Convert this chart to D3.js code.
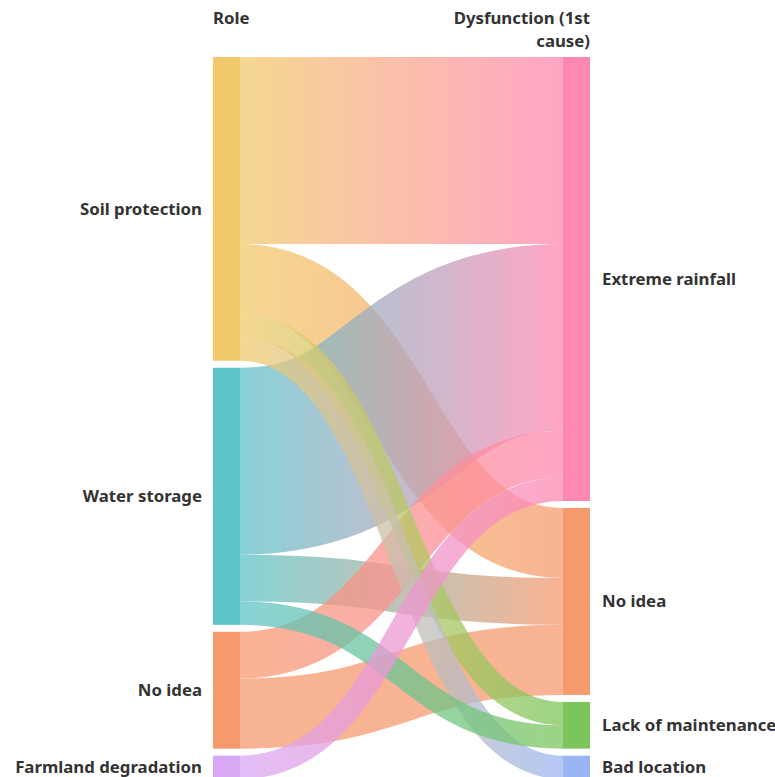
<!DOCTYPE html>
<html>
<head>
<meta charset="utf-8">
<script src="https://cdn.jsdelivr.net/npm/d3@7"></script>
<style>
  html, body { margin: 0; padding: 0; background: #fff; overflow: hidden; }
  svg { display: block; }
  text { font-family: "Noto Sans", "Open Sans", sans-serif; font-weight: 700; fill: #333; }
</style>
</head>
<body>
<div id="root"></div>
<script>
const columnTitles = [["Role"], ["Dysfunction (1st", "cause)"]];

const sourceNodes = ["Soil protection", "Water storage", "No idea", "Farmland degradation"];
const targetNodes = ["Extreme rainfall", "No idea", "Lack of maintenance", "Bad location"];

const linkSource = ["Soil protection", "Soil protection", "Soil protection", "Soil protection",
  "Water storage", "Water storage", "Water storage", "No idea", "No idea", "Farmland degradation"];
const linkTarget = ["Extreme rainfall", "No idea", "Lack of maintenance", "Bad location",
  "Extreme rainfall", "No idea", "Lack of maintenance", "Extreme rainfall", "No idea", "Extreme rainfall"];
const linkValue = [8, 3, 1, 1, 8, 2, 1, 2, 3, 1];

const nodeColors = {
  "Soil protection": "#f2ca6c",
  "Water storage": "#5ec3ca",
  "No idea": "#f69a6e",
  "Farmland degradation": "#d8a8f4",
  "Extreme rainfall": "#ff88b1",
  "Lack of maintenance": "#7cc55b",
  "Bad location": "#9bb5f2",
};

drawSankey();

function drawSankey() {
  const width = 775;
  const height = 777;
  const top = 57;
  const bottom = 779;
  const nodeWidth = 27;
  const nodePadding = 7;
  const fontSize = 16.8;

  const links = linkValue.map((v, i) => ({ id: i, source: linkSource[i], target: linkTarget[i], value: v }));

  const columns = [sourceNodes, targetNodes].map((names, col) => names.map(name => ({
    name,
    col,
    value: d3.sum(links.filter(l => (col === 0 ? l.source : l.target) === name), l => l.value),
  })));

  const maxTotal = d3.max(columns, c => d3.sum(c, d => d.value));
  const maxCount = d3.max(columns, c => c.length);
  const y = d3.scaleLinear()
    .domain([0, maxTotal])
    .range([0, bottom - top - nodePadding * (maxCount - 1)]);
  const x = d3.scaleLinear().domain([0, 1]).range([213, 563]);

  columns.forEach(nodes => {
    let y0 = top;
    nodes.forEach(n => {
      n.x0 = x(n.col);
      n.x1 = n.x0 + nodeWidth;
      n.y0 = y0;
      n.y1 = y0 + y(n.value);
      y0 = n.y1 + nodePadding;
    });
  });

  const src = new Map(columns[0].map(d => [d.name, d]));
  const tgt = new Map(columns[1].map(d => [d.name, d]));

  links.forEach(l => {
    l.s = src.get(l.source);
    l.t = tgt.get(l.target);
    l.width = y(l.value);
  });

  // stack links at each end, ordered by the position of the other end
  columns[0].forEach(n => {
    let yy = n.y0;
    links.filter(l => l.s === n)
      .sort((a, b) => a.t.y0 - b.t.y0)
      .forEach(l => { l.y0 = yy + l.width / 2; yy += l.width; });
  });
  columns[1].forEach(n => {
    let yy = n.y0;
    links.filter(l => l.t === n)
      .sort((a, b) => a.s.y0 - b.s.y0)
      .forEach(l => { l.y1 = yy + l.width / 2; yy += l.width; });
  });

  const svg = d3.select("#root").append("svg")
    .attr("width", width)
    .attr("height", height);

  const defs = svg.append("defs");
  links.forEach(l => {
    const g = defs.append("linearGradient")
      .attr("id", `grad${l.id}`)
      .attr("gradientUnits", "userSpaceOnUse")
      .attr("x1", l.s.x1)
      .attr("x2", l.t.x0);
    g.append("stop").attr("offset", "0%").attr("stop-color", nodeColors[l.source]);
    g.append("stop").attr("offset", "100%").attr("stop-color", nodeColors[l.target]);
  });

  const linkPath = d3.linkHorizontal()
    .source(d => [d.s.x1, d.y0])
    .target(d => [d.t.x0, d.y1]);

  // single-count links go on top so they stay visible
  const drawOrder = links.slice().sort((a, b) => (a.value === 1) - (b.value === 1));

  svg.append("g")
    .attr("fill", "none")
    .selectAll("path")
    .data(drawOrder)
    .join("path")
    .attr("d", linkPath)
    .attr("stroke", d => `url(#grad${d.id})`)
    .attr("stroke-width", d => Math.max(1, d.width))
    .attr("stroke-opacity", 0.75);

  const allNodes = columns.flat();

  svg.append("g")
    .selectAll("rect")
    .data(allNodes)
    .join("rect")
    .attr("x", d => d.x0)
    .attr("y", d => d.y0)
    .attr("width", d => d.x1 - d.x0)
    .attr("height", d => d.y1 - d.y0)
    .attr("fill", d => nodeColors[d.name]);

  svg.append("g")
    .selectAll("text")
    .data(allNodes)
    .join("text")
    .attr("x", d => d.col === 0 ? d.x0 - 11 : d.x1 + 12)
    .attr("y", d => (d.y0 + d.y1) / 2)
    .attr("dy", "0.35em")
    .attr("text-anchor", d => d.col === 0 ? "end" : "start")
    .attr("font-size", fontSize)
    .text(d => d.name);

  const titles = svg.append("g")
    .selectAll("text")
    .data(columnTitles)
    .join("text")
    .attr("font-size", fontSize)
    .attr("text-anchor", (d, i) => i === 0 ? "start" : "end")
    .attr("transform", (d, i) => `translate(${i === 0 ? x(0) : x(1) + nodeWidth}, 24)`);

  titles.selectAll("tspan")
    .data(d => d)
    .join("tspan")
    .attr("x", 0)
    .attr("y", (d, i) => i * 23)
    .text(d => d);
}
</script>
</body>
</html>
